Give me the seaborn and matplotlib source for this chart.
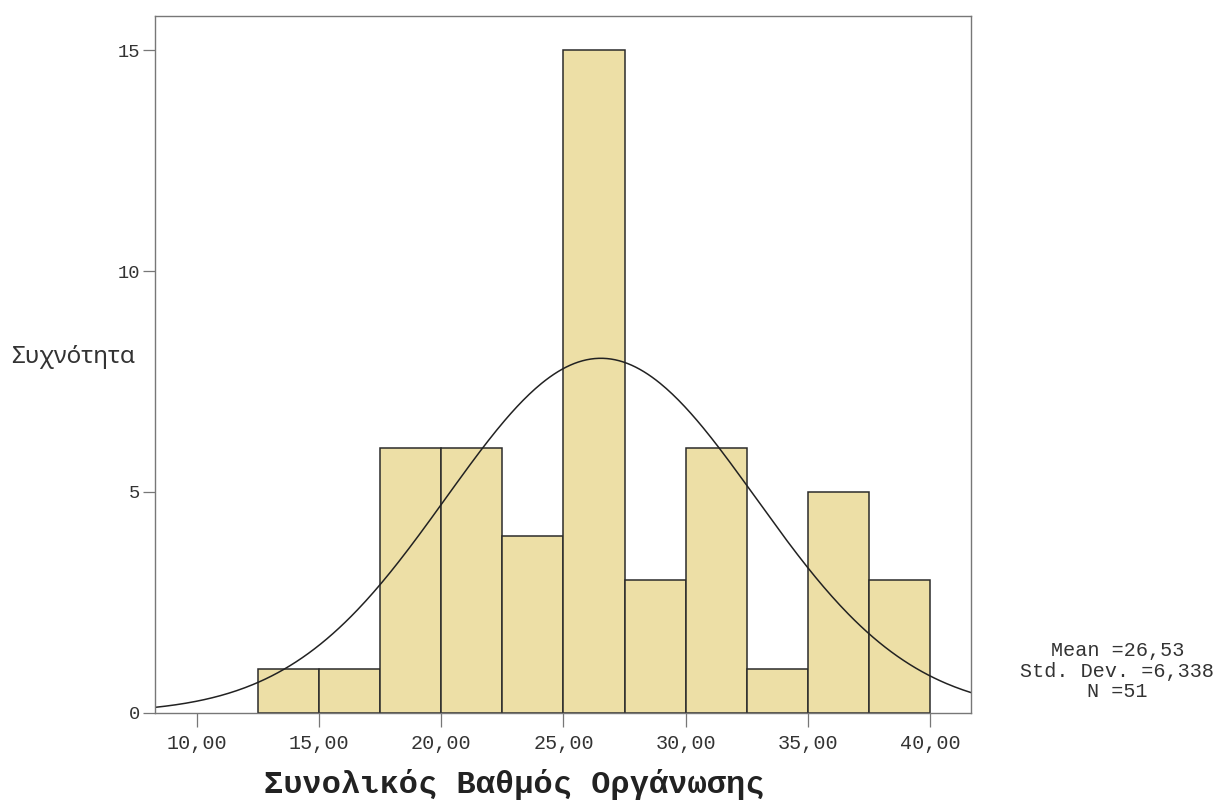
import numpy as np
import pandas as pd
import matplotlib
matplotlib.use("Agg")
import matplotlib.pyplot as plt
import seaborn as sns

# Histogram of total organisation score
bin_edges = [12.5, 15.0, 17.5, 20.0, 22.5, 25.0, 27.5, 30.0, 32.5, 35.0, 37.5, 40.0]
counts = [1, 1, 6, 6, 4, 15, 3, 6, 1, 5, 3]
x_ticks = [10, 15, 20, 25, 30, 35, 40]
x_tick_labels = ["10,00", "15,00", "20,00", "25,00", "30,00", "35,00", "40,00"]
y_ticks = [0, 5, 10, 15]
mean_value = 26.53
std_value = 6.338
n_value = 51

sns.set_theme(style="white")
plt.rcParams["font.family"] = ["Liberation Mono", "DejaVu Sans"]

centers = [(a + b) / 2 for a, b in zip(bin_edges[:-1], bin_edges[1:])]
df = pd.DataFrame({"score": centers, "count": counts})

fig = plt.figure(figsize=(12.25, 8.01), dpi=100)
ax = fig.add_axes([0.1265, 0.1099, 0.6662, 0.8701])

sns.histplot(data=df, x="score", weights="count", bins=bin_edges,
             color="#eddfa6", edgecolor="#2b2b2b", linewidth=1.1,
             alpha=1.0, ax=ax)

xmin, xmax = 8.28, 41.68
ax.set_xlim(xmin, xmax)
ax.set_ylim(0, 15.77)

# Fitted normal curve scaled to counts
bw = bin_edges[1] - bin_edges[0]
xs = np.linspace(xmin, xmax, 400)
pdf = np.exp(-0.5 * ((xs - mean_value) / std_value) ** 2) / (std_value * np.sqrt(2 * np.pi))
sns.lineplot(x=xs, y=pdf * n_value * bw, color="#222222", linewidth=1.1, ax=ax)

ax.set_xticks(x_ticks)
ax.set_xticklabels(x_tick_labels, fontsize=14.5, color="#333333")
ax.set_yticks(y_ticks)
ax.set_yticklabels([str(v) for v in y_ticks], fontsize=13.5, color="#333333")
ax.tick_params(axis="x", direction="out", length=10, width=0.9, color="#777777",
               bottom=True, pad=5)
ax.tick_params(axis="y", direction="out", length=8.5, width=0.9, color="#777777",
               left=True, pad=2)

for side in ["left", "right", "top", "bottom"]:
    ax.spines[side].set_visible(True)
    ax.spines[side].set_color("#777777")
    ax.spines[side].set_linewidth(1.0)

ax.set_xlabel("")
ax.set_ylabel("")
fig.text(0.420, 0.020, "Συνολικός Βαθμός Οργάνωσης", fontsize=23, fontweight="bold",
         color="#222222", ha="center", va="center")
fig.text(0.009, 0.554, "Συχνότητα", fontsize=17.5, color="#333333",
         family=["Noto Sans", "DejaVu Sans"], ha="left", va="center")

mean_str = f"{mean_value:.2f}".replace(".", ",")
std_str = f"{std_value:.3f}".replace(".", ",")
stats_text = f"Mean ={mean_str}\nStd. Dev. ={std_str}\nN ={n_value}"
fig.text(0.912, 0.162, stats_text, fontsize=14.5, color="#333333",
         ha="center", va="center", multialignment="center", linespacing=1.1)

fig.savefig("out.png", dpi=100, facecolor="white")
